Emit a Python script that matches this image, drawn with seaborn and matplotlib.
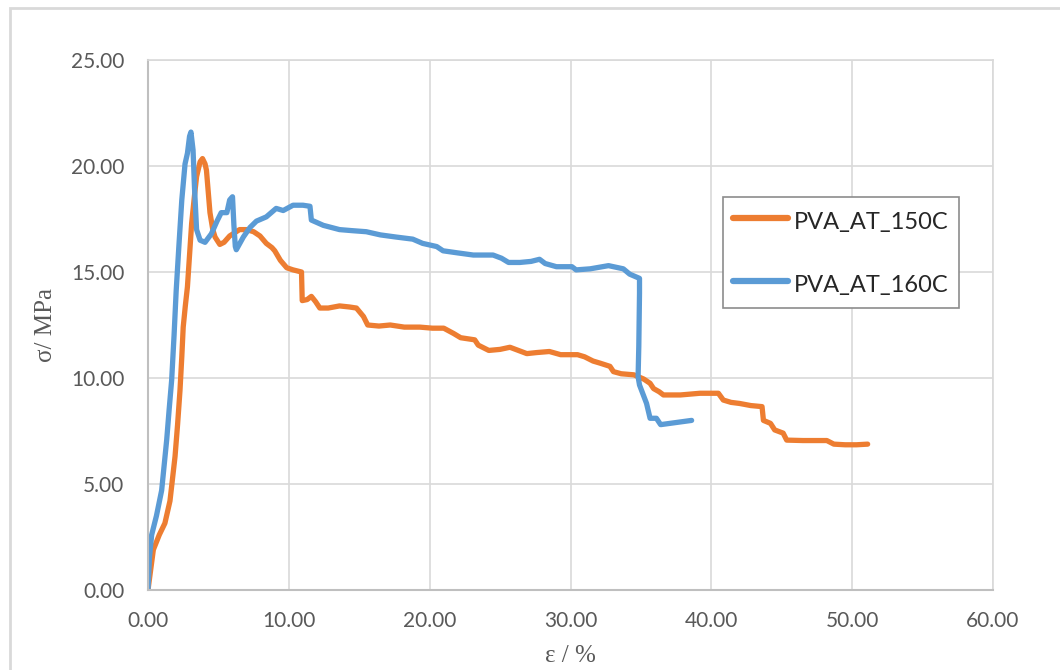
import numpy as np
import pandas as pd
import matplotlib
matplotlib.use("Agg")
import matplotlib.pyplot as plt
import seaborn as sns
from matplotlib.patches import Rectangle

# strain (%) and stress (MPa)
strain_150 = [0, 0.38, 0.8, 1.2, 1.56, 1.92, 2.1, 2.27, 2.4, 2.5, 2.65, 2.8, 2.95, 3.1, 3.3,
              3.45, 3.7, 3.87, 4.05, 4.15, 4.3, 4.4, 4.6, 4.76, 5.1, 5.4, 5.8, 6.5, 7.0, 7.5,
              7.95, 8.4, 8.8, 9.0, 9.4, 9.85, 10.3, 10.9, 10.95, 11.3, 11.6, 11.9, 12.2, 12.8,
              13.6, 14.3, 14.8, 15.3, 15.6, 16.4, 17.2, 18.2, 19.3, 20.2, 21.0, 21.7, 22.2,
              23.2, 23.45, 24.2, 25.0, 25.7, 26.3, 26.9, 27.6, 28.5, 29.3, 30.5, 31.0, 31.6,
              32.1, 32.8, 33.05, 33.6, 34.5, 35.2, 35.65, 35.9, 36.3, 36.6, 37.8, 39.2, 40.5,
              40.85, 41.4, 42.0, 42.8, 43.6, 43.7, 44.2, 44.5, 45.1, 45.35, 46.5, 47.5, 48.2,
              48.7, 49.5, 50.3, 51.1]
stress_150 = [0, 1.9, 2.6, 3.15, 4.2, 6.3, 7.8, 9.4, 11.0, 12.4, 13.4, 14.3, 15.8, 17.3, 18.6,
              19.5, 20.2, 20.35, 20.1, 19.8, 18.6, 17.8, 17.0, 16.65, 16.3, 16.4, 16.7, 17.0,
              17.0, 16.9, 16.7, 16.35, 16.15, 16.0, 15.55, 15.2, 15.1, 15.0, 13.65, 13.7, 13.85,
              13.6, 13.3, 13.3, 13.4, 13.35, 13.3, 12.9, 12.5, 12.45, 12.5, 12.4, 12.4, 12.35,
              12.35, 12.1, 11.9, 11.8, 11.55, 11.3, 11.35, 11.45, 11.3, 11.15, 11.2, 11.25,
              11.1, 11.1, 11.0, 10.8, 10.7, 10.55, 10.3, 10.2, 10.15, 9.95, 9.75, 9.5, 9.35,
              9.2, 9.2, 9.28, 9.28, 8.96, 8.85, 8.8, 8.7, 8.65, 8.0, 7.86, 7.55, 7.4, 7.07,
              7.05, 7.05, 7.05, 6.88, 6.85, 6.85, 6.88]

strain_160 = [0, 0.1, 0.26, 0.6, 0.97, 1.33, 1.5, 1.68, 1.85, 2.0, 2.2, 2.4, 2.63, 2.8, 2.95,
              3.05, 3.2, 3.3, 3.45, 3.7, 4.05, 4.5, 4.9, 5.2, 5.6, 5.8, 6.0, 6.1, 6.2, 6.27,
              6.77, 7.24, 7.7, 8.4, 9.1, 9.6, 10.3, 11.0, 11.5, 11.6, 12.45, 13.6, 14.5, 15.5,
              16.5, 17.6, 18.8, 19.5, 20.5, 20.95, 22.0, 23.1, 24.5, 25.1, 25.6, 26.4, 27.2,
              27.8, 28.2, 29.0, 30.1, 30.4, 31.4, 32.7, 33.75, 34.2, 34.9, 34.9, 34.85, 34.8,
              34.9, 35.4, 35.65, 36.1, 36.4, 37.5, 38.6]
stress_160 = [0, 1.5, 2.6, 3.5, 4.7, 7.1, 8.5, 9.9, 12.0, 14.1, 16.3, 18.4, 20.1, 20.6, 21.4,
              21.6, 20.75, 19.0, 17.0, 16.5, 16.4, 16.8, 17.4, 17.8, 17.8, 18.4, 18.55, 17.2,
              16.2, 16.05, 16.65, 17.1, 17.4, 17.6, 18.0, 17.9, 18.15, 18.15, 18.1, 17.45, 17.2,
              17.0, 16.95, 16.9, 16.75, 16.65, 16.55, 16.35, 16.2, 16.0, 15.9, 15.8, 15.8, 15.65,
              15.45, 15.45, 15.5, 15.6, 15.4, 15.25, 15.25, 15.1, 15.15, 15.3, 15.15, 14.9, 14.7,
              14.0, 11.5, 10.06, 9.67, 8.8, 8.1, 8.1, 7.8, 7.9, 8.0]

series_names = ["PVA_AT_150C", "PVA_AT_160C"]
series_colors = ["#ED7D31", "#5B9BD5"]

df = pd.concat([
    pd.DataFrame({"strain": strain_150, "stress": stress_150, "sample": series_names[0]}),
    pd.DataFrame({"strain": strain_160, "stress": stress_160, "sample": series_names[1]}),
], ignore_index=True)

sns.set_style("whitegrid")
plt.rcParams["font.family"] = ["Lato", "DejaVu Sans"]

fig = plt.figure(figsize=(10.6, 6.7), dpi=100)
ax = fig.add_axes([148 / 1060, 80 / 670, 845 / 1060, 530 / 670])

sns.lineplot(data=df, x="strain", y="stress", hue="sample", hue_order=series_names,
             palette=series_colors, sort=False, estimator=None, units="sample",
             linewidth=3.8, legend=False, ax=ax,
             solid_capstyle="round", solid_joinstyle="round")

ax.set_xlim(0, 60)
ax.set_ylim(0, 25)
ax.set_xticks(np.arange(0, 61, 10))
ax.set_yticks(np.arange(0, 26, 5))
ax.xaxis.set_major_formatter(matplotlib.ticker.FormatStrFormatter("%.2f"))
ax.yaxis.set_major_formatter(matplotlib.ticker.FormatStrFormatter("%.2f"))
ax.tick_params(axis="both", labelsize=15, colors="#595959", length=0)
ax.tick_params(axis="x", pad=15)
ax.tick_params(axis="y", pad=17)
ax.grid(True, color="#D9D9D9", linewidth=1.2)
for side in ["top", "right"]:
    ax.spines[side].set_color("#D9D9D9")
    ax.spines[side].set_linewidth(1.2)
for side in ["left", "bottom"]:
    ax.spines[side].set_color("#BFBFBF")
    ax.spines[side].set_linewidth(1.5)

ax.set_xlabel("ε / %", family=["Liberation Serif", "DejaVu Serif"], fontsize=18,
              color="#595959", labelpad=10)
ax.set_ylabel("σ/ MPa", family=["Liberation Serif", "DejaVu Serif"], fontsize=18,
              color="#595959", labelpad=10)

handles = [matplotlib.lines.Line2D([], [], color=c, lw=4.5, solid_capstyle="round")
           for c in series_colors]
leg = ax.legend(handles, series_names, loc="upper left", bbox_to_anchor=(0.680, 0.7415),
                borderaxespad=0, frameon=True, fancybox=False, fontsize=17,
                handlelength=2.3, handleheight=1.4, handletextpad=0.25,
                labelspacing=1.5, borderpad=0.45)
leg.get_frame().set_edgecolor("#8C8C8C")
leg.get_frame().set_linewidth(1.2)
leg.get_frame().set_alpha(1)

# chart area border
fig.patches.append(Rectangle((10 / 1060, -0.05), 1.1, 1.05 - 8 / 670,
                             transform=fig.transFigure, fill=False,
                             edgecolor="#D9D9D9", linewidth=2))

fig.savefig("out.png", dpi=100)
